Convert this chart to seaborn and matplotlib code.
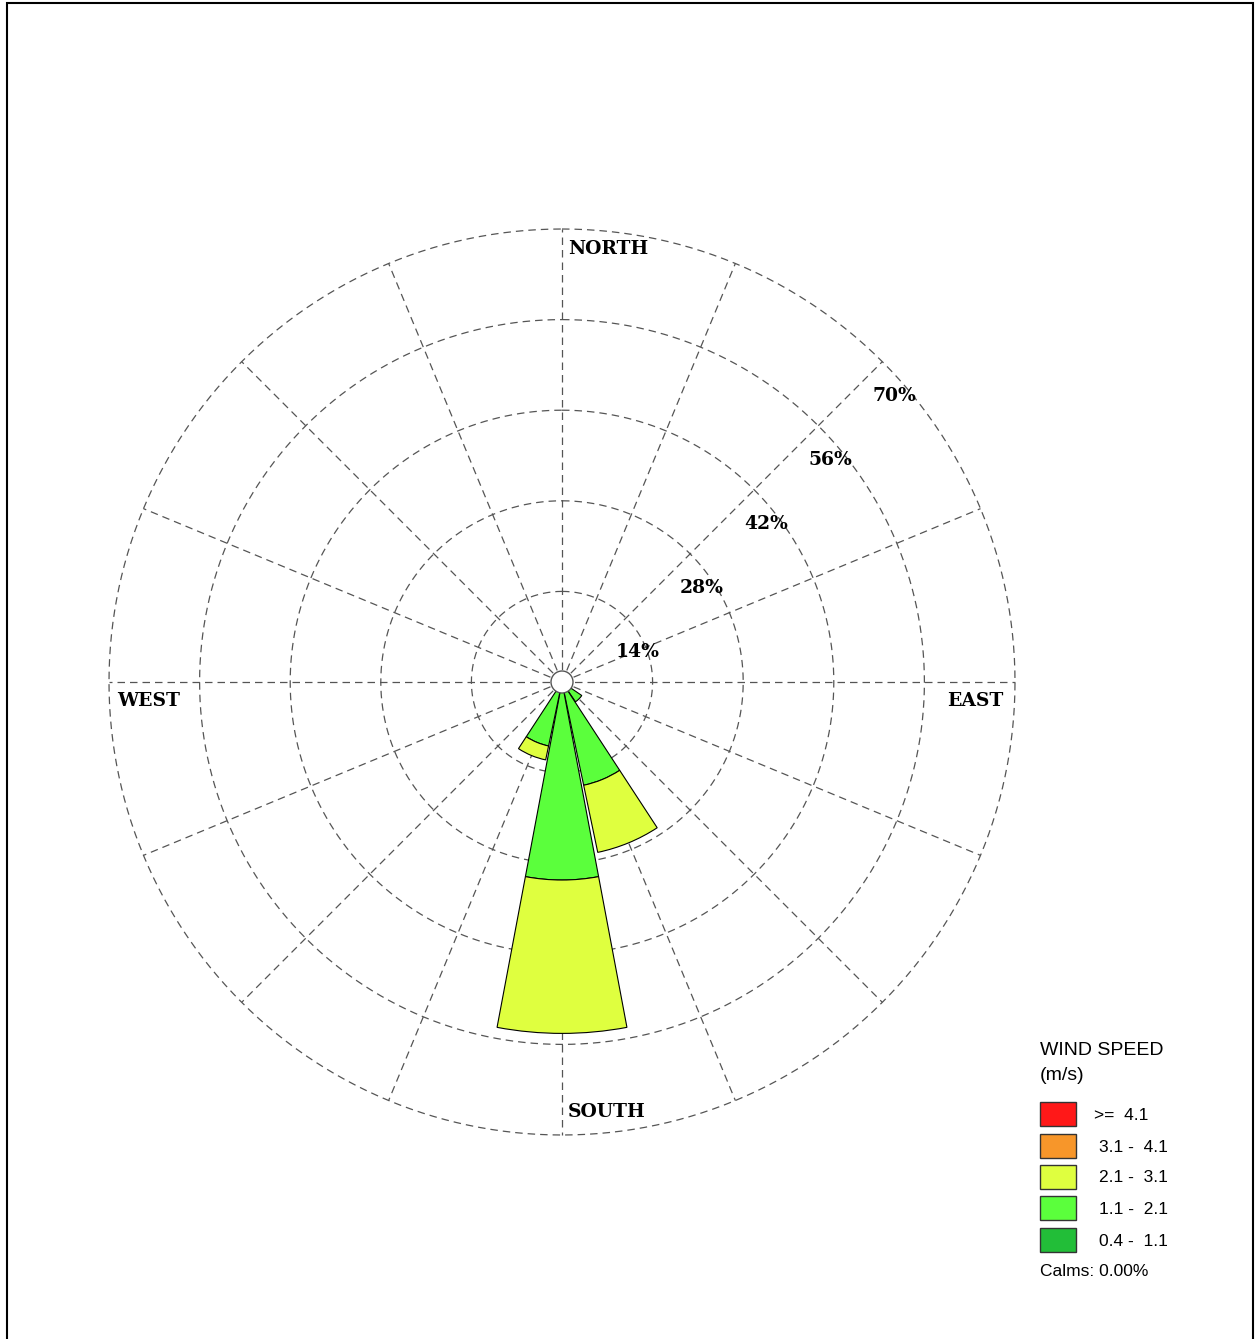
import numpy as np
import matplotlib
matplotlib.use("Agg")
import matplotlib.pyplot as plt
import matplotlib.transforms as mtransforms
from matplotlib.patches import Rectangle, Circle
import seaborn as sns

# ---------------- data ----------------
directions = ["N", "NNE", "NE", "ENE", "E", "ESE", "SE", "SSE",
              "S", "SSW", "SW", "WSW", "W", "WNW", "NW", "NNW"]
speed_bins = ["0.4 -  1.1", "1.1 -  2.1", "2.1 -  3.1", "3.1 -  4.1", ">=  4.1"]
bin_colors = ["#22BE38", "#5BFF3C", "#DFFF3F", "#F7962A", "#FF1818"]

freq_04_11 = [0, 0, 0, 0, 0, 0, 0.0, 0.0, 0.0, 0.0, 0, 0, 0, 0, 0, 0]
freq_11_21 = [0, 0, 0, 0, 0, 0, 3.7, 16.3, 30.6, 10.1, 0, 0, 0, 0, 0, 0]
freq_21_31 = [0, 0, 0, 0, 0, 0, 0.0, 10.6, 23.7, 2.2, 0, 0, 0, 0, 0, 0]
freq_31_41 = [0] * 16
freq_ge_41 = [0] * 16

ring_values = [14, 28, 42, 56, 70]
ring_labels = ["14%", "28%", "42%", "56%", "70%"]
calms_text = "Calms: 0.00%"
legend_title = "WIND SPEED\n(m/s)"

# ---------------- figure ----------------
sns.set_theme(style="white")
plt.rcParams["font.family"] = ["Liberation Sans", "DejaVu Sans"]
plt.rcParams["text.color"] = "black"

W, H = 1258, 1339
fig = plt.figure(figsize=(W / 100, H / 100), dpi=100)
fig.patch.set_facecolor("white")

def fx(x):
    return x / W

def fy(y):
    return 1 - y / H

cx, cy, R = 562, 682, 453
ax = fig.add_axes([fx(cx - R), fy(cy + R), 2 * R / W, 2 * R / H], projection="polar")
ax.set_theta_zero_location("N")
ax.set_theta_direction(-1)
ax.set_ylim(0, 70)
ax.grid(False)
ax.set_xticks([])
ax.set_yticks([])
ax.spines["polar"].set_visible(False)
ax.set_facecolor("none")

grid_kw = dict(color="#555555", lw=0.9, ls=(0, (6, 4)), zorder=1, clip_on=False)
th = np.linspace(0, 2 * np.pi, 721)
for rv in ring_values:
    ax.plot(th, np.full_like(th, rv), **grid_kw)
angles = np.deg2rad(np.arange(16) * 22.5)
for a in angles:
    ax.plot([a, a], [0, 70], **grid_kw)

# bars
width = np.deg2rad(21.3)
bottom = np.zeros(16)
for vals, col in zip([freq_04_11, freq_11_21, freq_21_31, freq_31_41, freq_ge_41], bin_colors):
    vals = np.array(vals, dtype=float)
    mask = vals > 0
    if mask.any():
        ax.bar(angles[mask], vals[mask], width=width, bottom=bottom[mask],
               color=col, edgecolor="black", linewidth=0.8, zorder=3)
    bottom += vals

# calm circle
ax.add_patch(Circle((0.5, 0.5), 11 / (2 * R), transform=ax.transAxes,
                    facecolor="white", edgecolor="#555555", lw=1.0, zorder=5))

# ring labels
off = mtransforms.offset_copy(ax.transData, fig=fig, x=12, y=-34, units="dots")
for rv, lab in zip(ring_values, ring_labels):
    ax.text(np.deg2rad(45), rv, lab, transform=off, ha="center", va="center",
            fontsize=13.5, fontweight="heavy", family="DejaVu Serif", color="black",
            zorder=6)

# direction labels
dkw = dict(fontsize=13.5, fontweight="heavy", family="DejaVu Serif", va="center",
           color="black")
fig.text(fx(568), fy(249), "NORTH", ha="left", **dkw)
fig.text(fx(568), fy(1112), "SOUTH", ha="left", **dkw)
fig.text(fx(117), fy(701), "WEST", ha="left", **dkw)
fig.text(fx(1003), fy(701), "EAST", ha="right", **dkw)

# legend
fig.text(fx(1040), fy(1063), legend_title, ha="left", va="center", fontsize=14,
         linespacing=1.55, color="black")
box_tops = [1102, 1134, 1165, 1196, 1228]
for i, (lab, col) in enumerate(zip(speed_bins[::-1], bin_colors[::-1])):
    top = box_tops[i]
    fig.patches.append(Rectangle((fx(1040), fy(top + 24)), 36 / W, 24 / H,
                                 transform=fig.transFigure, facecolor=col,
                                 edgecolor="#333333", lw=1))
    xlab = 1094 if lab.startswith(">") else 1099
    fig.text(fx(xlab), fy(top + 13), lab, ha="left", va="center", fontsize=12.5,
             color="black")
fig.text(fx(1040), fy(1272), calms_text, ha="left", va="center", fontsize=12.5,
         color="black")

# frame
fig.patches.append(Rectangle((fx(7), -0.01), (1253 - 7) / W, fy(3) + 0.01,
                             transform=fig.transFigure, fill=False,
                             edgecolor="black", lw=1.5))

fig.savefig("out.png", dpi=100, facecolor="white")
